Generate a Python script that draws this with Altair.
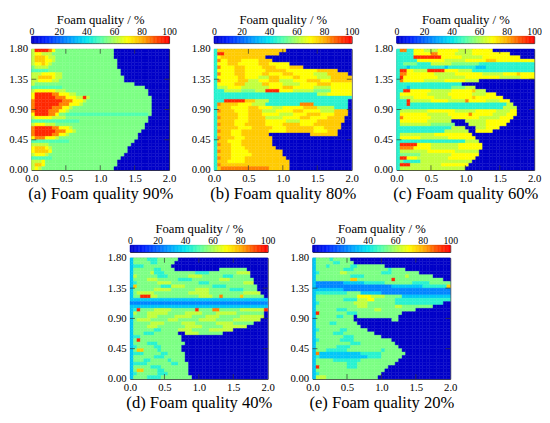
import re
import altair as alt
import pandas as pd

# quality level codes -> foam quality (%)
LEVELS = {'b': 0, 'c': 15, 'd': 25, 'e': 35, 'f': 45, 'm': 50, 'g': 55,
          'h': 63, 'i': 70, 'j': 77, 'k': 85, 'l': 95}

# each row: y from 1.80 (top) down to 0.00, 40 cells of 0.05 in x; run-length coded, padded with background 'b'
panel_a = [
    "hl4kig17", "hi2h3g18", "hj3ih2g17", "hj3i2hg18", "hi2jihg19", "gh4g20",
    "m5g21", "h3i4h2g17", "h2j4ih2g18", "h2i4h2g19", "hg29", "m9g24",
    "hi6h3g24", "il5k2i3h2g21", "il6k3i3h2lhg18", "kl8k3i3hg19", "kl7k3i3hg20", "kl5k3i2hg23",
    "kl4k3i2hg24", "il4k2ig2m24g", "hi5h4g24", "m14g20", "hi3h3g26", "kl5k2i3hg21",
    "kl6k3i2hg19", "kl5k2i2hg20", "ik3i3hg23", "m11g19", "h5g24", "ij3ihg22",
    "ij4ig22", "hi3hg22", "m6g20", "h3ig21", "hj2ig21", "hihg21",
]
panel_b = [
    "fj20", "fl2j16", "fij13", "fki2j4i5j4", "fi3j3i6j3i6", "fki4j3i5j4i4j4",
    "fi5j3i6j6i9j6", "fki4j3i5j2i4j3i6h4j6", "fi6j2i4h3j3i4j2i5h4j6", "fki5j3h3i3j3h4i4j4i3j6",
    "fi5j3h5j2i4h5i5j4i6", "fh3i4h8i4j3i6h5i6",
    "f3h5g4h3l4i4h6g5i6", "f30h3i7", "f40", "f3l6j3h4f23", "fkj5i4h4f10k4f10", "fj4i5j3i4h3i6j4h5f4",
    "fkj4i4j4h4i5j3i5h4j4", "fj6i3j4i5h4i4j4i4j4", "fkj5i3j5h5i5j3i5j5", "fj5i4j5i6h4i5j8",
    "fkj4i3j6i5j5i4j8", "fj6i4j6i4j8i3j5",
    "fkj3i3j8i5j8i4j3", "fj4i3j8b12j8", "fkj4i3j8", "fj3i4j9", "fkj3i3j9", "fj4i4j9",
    "fkj3i5j10", "fj4i6j9", "fkj3i4j12", "fj3i5j13", "fkj20", "fjk14j6",
]
panel_c = [
    "fk2f2i3h4i6h4i6", "f5i5k2i5h5i11", "f5l8i6h6i11", "f6i8h6i6j3i11", "f2g4f4h6g8f16", "f3ef10ef8e3f14",
    "fl2i2h4l5i4h4f18", "fk2i8h6i8h6i4ji4", "fli10h8i10h6i4", "fki6h6i6h4", "f19", "f3ef12g4h3",
    "f2l2i6h6i6jh3", "fi8h6i7h4i3", "fh4i6h5i6ji8", "f3lh6i5h5ki5h4i3", "f3lf28h2", "f31h4",
    "fh8i8h6i6h4i2", "fi8h6i6ki6h4i3", "fki8h6i8h6i4", "fi8h7b4h6i7", "fh9g7b4h5i6", "f16h4b3h3i4",
    "f14h7b2i5", "fh10i11", "fi6h8i8", "f20h4", "fl5i4h8i7", "fk4i5h8i7",
    "fh8i8h7", "fg6h9i8", "fl2i3h9i8", "fgf5h15", "fl3h9i8", "fh19",
]
panel_d = [
    "eg4f3g6", "eg5f2g5", "ef3g8", "eg6f2g4b13g8", "eg5hf3g9f4g8h4", "ehg6f3g6h4g6f3g5",
    "eg4h3g6f4g8h3g7", "efg6h4g8f3g10h3", "ejg7f3h4g8f4g9", "eg6h5g7h4g6f4g4", "egh5g10h6g10h5",
    "eg2l3h2g12h4g2kg5jg6",
    "e40", "d40", "e40", "eflg4h5g7lg4k2g6h7l", "ehg3h6g5h5g4h6g8", "eg4h3g5h5g4h4g6h7",
    "egh4g5h3g6h5g5h8", "eg5h4g5h4g6h5g6", "eg4h3g8h5g6h7", "eg6f2g5h4g5h7", "eg3f3g7b2h4g7", "ef2g12",
    "eglg12", "eg4f3g8", "efg5f2g6", "egj2g4fg6", "ef3g5f2g5", "eg6f3g6",
    "eg3f2g5fg4", "ef4g7f2g3", "eg5f3g8", "egj2g4f2g7", "efg6f3g6", "eg4f4g9",
]
panel_e = [
    "eg4fg5", "eg5f2g4", "eg3fg6f2g8", "eg8f3g10fg4", "efg6h2g10f3g8", "eg10f4g12hg7",
    "eg10j2g10lg14", "ed8e6f6g8f5g6", "ed22e9f7j", "e9d31", "ef9g4e6d20", "eg12i4h4g5e14",
    "eg8f4h3i2g6f16", "efg10h4g8f14", "eg12h3g8h2g9", "eg6f3g8h2g10", "elg8f3g13", "eg6f2g3bg12",
    "eg11b11g2", "eg4f2g6", "eg13", "efg6f2g6", "eg5f3g9", "eg8f3g8",
    "efg6f4g11", "eg10f3g10", "eg6f4g14", "eg3f6g10fg5", "eke12f6g7", "efe14f4g6",
    "eg5f8g11", "eg9f3g11", "elg8f3g9", "eg20", "efg18", "eh3g15",
]

captions = ["(a) Foam quality 90%", "(b) Foam quality 80%", "(c) Foam quality 60%",
            "(d) Foam quality 40%", "(e) Foam quality 20%"]
x_ticks = [0.0, 0.5, 1.0, 1.5, 2.0]
y_ticks = [0.0, 0.45, 0.90, 1.35, 1.80]
cbar_ticks = [0, 20, 40, 60, 80, 100]
cbar_steps = list(range(0, 100))
color_stops = [0, 10, 20, 30, 40, 50, 60, 70, 80, 90, 100]
color_range = ["#0000c8", "#0020ff", "#0064ff", "#00a8ff", "#00e6f0", "#50ffb0",
               "#a8ff58", "#ffff00", "#ffb400", "#ff5000", "#ff0000"]

CELL = 0.05
NCOL = 40
FONT = "Liberation Serif"
W, H = 141, 124
FRAME = "#333333"

cscale = alt.Scale(domain=color_stops, range=color_range, interpolate="rgb", clamp=True)
xscale = alt.Scale(domain=[0, 2], nice=False, zero=False)
yscale = alt.Scale(domain=[0, 1.8], nice=False, zero=False)


def decode(rows):
    recs = []
    for r, row in enumerate(rows):
        cells = "".join(ch * (int(n) if n else 1) for ch, n in re.findall(r"([a-m])(\d*)", row))
        cells = cells[:NCOL].ljust(NCOL, "b")
        for c, ch in enumerate(cells):
            recs.append({"x0": c * CELL, "x1": (c + 1) * CELL,
                         "y0": 1.8 - (r + 1) * CELL, "y1": 1.8 - r * CELL,
                         "q": LEVELS[ch]})
    return pd.DataFrame(recs)


cb_df = pd.DataFrame({"v": cbar_steps})
xt_df = pd.DataFrame({"x0": x_ticks[1:-1]})
yt_df = pd.DataFrame({"y0": y_ticks[1:-1]})


def colorbar():
    return alt.Chart(cb_df).transform_calculate(
        v2="datum.v + 1", m="datum.v + 0.5"
    ).mark_rect(strokeWidth=0.5).encode(
        x=alt.X("v:Q", scale=alt.Scale(domain=[0, 100], nice=False, zero=False),
                axis=alt.Axis(orient="top", values=cbar_ticks, format="d", labelFontSize=10,
                              labelPadding=0, title="Foam quality / %", titleFontSize=13,
                              titlePadding=0, labelFont=FONT, titleFont=FONT)),
        x2="v2:Q",
        color=alt.Color("m:Q", scale=cscale, legend=None),
        stroke=alt.Stroke("m:Q", scale=cscale, legend=None),
    ).properties(width=W, height=7)


def heat(rows, caption):
    df = decode(rows)
    xaxis = alt.Axis(values=x_ticks, format=".1f", title=caption, titleFontSize=17,
                     titlePadding=2, labelPadding=3, labelFont=FONT, titleFont=FONT)
    yaxis = alt.Axis(values=y_ticks, format=".2f", labelPadding=4, labelFont=FONT, title=None)
    cells = alt.Chart(df).mark_rect(strokeWidth=0.4).encode(
        x=alt.X("x0:Q", scale=xscale, axis=xaxis),
        x2="x1:Q",
        y=alt.Y("y0:Q", scale=yscale, axis=yaxis),
        y2="y1:Q",
        color=alt.Color("q:Q", scale=cscale, legend=None),
        stroke=alt.Stroke("q:Q", scale=cscale, legend=None),
    )
    tick_b = alt.Chart(xt_df).mark_tick(orient="vertical", size=5, thickness=1, color=FRAME).encode(
        x=alt.X("x0:Q", scale=xscale, axis=xaxis), y=alt.value(H - 2.5))
    tick_t = alt.Chart(xt_df).mark_tick(orient="vertical", size=5, thickness=1, color=FRAME).encode(
        x=alt.X("x0:Q", scale=xscale, axis=xaxis), y=alt.value(2.5))
    tick_l = alt.Chart(yt_df).mark_tick(orient="horizontal", size=5, thickness=1, color=FRAME).encode(
        y=alt.Y("y0:Q", scale=yscale, axis=yaxis), x=alt.value(2.5))
    tick_r = alt.Chart(yt_df).mark_tick(orient="horizontal", size=5, thickness=1, color=FRAME).encode(
        y=alt.Y("y0:Q", scale=yscale, axis=yaxis), x=alt.value(W - 2.5))
    return alt.layer(cells, tick_b, tick_t, tick_l, tick_r).properties(width=W, height=H)


def panel(rows, caption):
    return alt.vconcat(colorbar(), heat(rows, caption), spacing=6, bounds="flush").resolve_scale(
        x="independent", y="independent")


spacer = alt.Chart(pd.DataFrame({"v": [0]})).mark_point(opacity=0).encode(
    x=alt.X("v:Q", axis=None), y=alt.Y("v:Q", axis=None)
).properties(width=63, height=10, view=alt.ViewBackground(strokeOpacity=0))

top = alt.hconcat(panel(panel_a, captions[0]), panel(panel_b, captions[1]), panel(panel_c, captions[2]),
                  spacing=14).resolve_scale(x="independent", y="independent")
bottom = alt.hconcat(spacer, panel(panel_d, captions[3]), panel(panel_e, captions[4]),
                     spacing=14).resolve_scale(x="independent", y="independent")

chart = alt.vconcat(top, bottom, spacing=20).resolve_scale(
    x="independent", y="independent"
).properties(
    padding={"left": 0, "top": 0, "right": 0, "bottom": 0}, background="white"
).configure(
    font=FONT
).configure_view(
    stroke=FRAME, strokeWidth=1
).configure_axis(
    labelFont=FONT, titleFont=FONT, labelFontSize=11, labelColor="black", titleColor="black",
    titleFontWeight="normal", ticks=False, domain=False, grid=False, labelFlush=False,
    labelOverlap=False
)

chart.save("out.html", embed_options={"renderer": "svg", "actions": False})
